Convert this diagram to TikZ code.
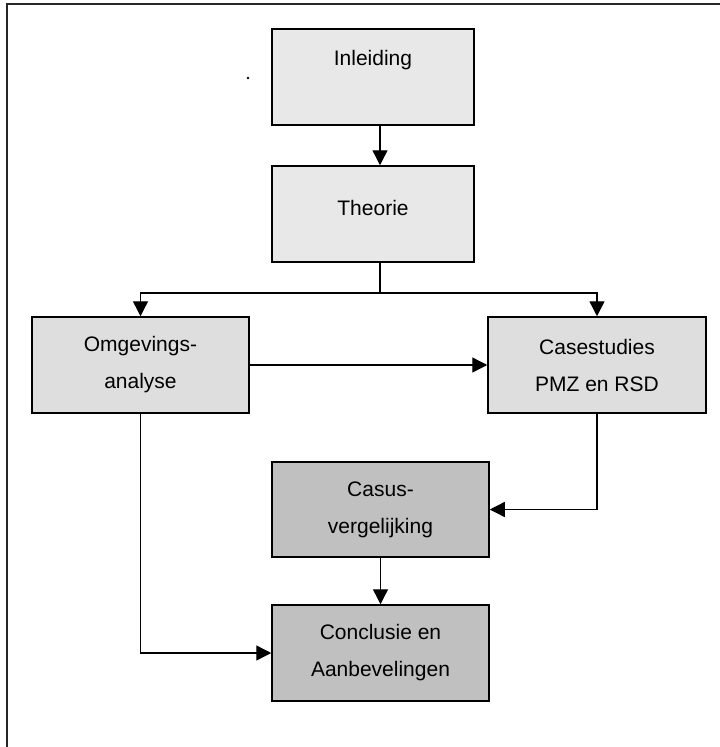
\documentclass[tikz,border=0pt]{standalone}
\usepackage{fontspec}
\setmainfont{Liberation Sans}
\usetikzlibrary{arrows.meta}

\definecolor{boxlight}{HTML}{E8E8E8}
\definecolor{boxmid}{HTML}{DEDEDE}
\definecolor{boxdark}{HTML}{C0C0C0}

\tikzset{
  chapter/.style={draw=black, line width=1.5pt, inner sep=0pt, align=center,
    font=\fontsize{21}{37}\selectfont},
  light/.style={chapter, fill=boxlight},
  mid/.style={chapter, fill=boxmid},
  dark/.style={chapter, fill=boxdark},
  flow/.style={draw=black, line width=1.4pt,
    -{Triangle[length=15pt,width=15pt]}},
  plain/.style={draw=black, line width=1.4pt},
}

\begin{document}
\begin{tikzpicture}[x=1pt, y=-1pt]
  \useasboundingbox (0,0) rectangle (720,747);

  % frame along the top and left edges
  \draw[line width=2.5pt, black!85] (7,747) -- (7,4) -- (720,4);

  % stray dot
  \fill (248,78) circle (1.3pt);

  % chapters
  \node[light, minimum width=202pt, minimum height=96pt] (inl) at (373,77)
    {\raisebox{17pt}[0.75em][0.2em]{Inleiding}};
  \node[light, minimum width=202pt, minimum height=96pt] (the) at (373,214)
    {\raisebox{4pt}[0.75em][0.2em]{Theorie}};
  \node[mid, minimum width=217pt, minimum height=96pt] (omg) at (140.5,365)
    {Omgevings-\\analyse};
  \node[mid, minimum width=218pt, minimum height=96pt] (cas) at (597,365)
    {Casestudies\\PMZ en RSD};
  \node[dark, minimum width=217pt, minimum height=95pt] (cvg) at (380.5,509.5)
    {Casus-\\vergelijking};
  \node[dark, minimum width=217pt, minimum height=96pt] (con) at (380.5,653)
    {Conclusie en\\Aanbevelingen};

  % spine and branching point
  \coordinate (spine) at (380,0);
  \coordinate (split) at (380,293);

  % connectors
  \draw[flow] (inl.south -| spine) -- (the.north -| spine);
  \draw[plain] (the.south -| split) -- (split);
  \draw[flow] (split) -| (omg.north);
  \draw[flow] (split) -| (cas.north);
  \draw[flow] (omg.east) -- (cas.west);
  \draw[flow] (cas.south) |- (cvg.east);
  \draw[flow] (cvg.south) -- (con.north);
  \draw[flow] (omg.south) |- (con.west);
\end{tikzpicture}
\end{document}
